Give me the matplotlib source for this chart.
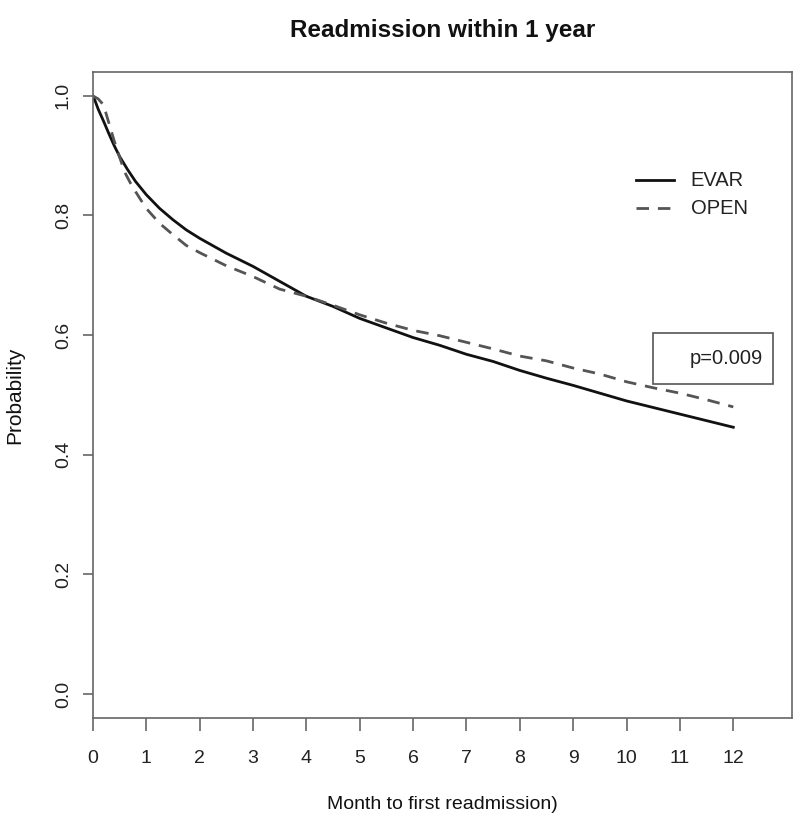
import matplotlib
matplotlib.use("Agg")
import matplotlib.pyplot as plt
from matplotlib.patches import Rectangle

plt.rcParams['font.family'] = ['Liberation Sans', 'DejaVu Sans']

# Data
evar_t = [0, 0.05, 0.1, 0.2, 0.3, 0.4, 0.5, 0.65, 0.8, 1.0, 1.25, 1.5, 1.75, 2.0,
          2.5, 3.0, 3.5, 4.0, 4.5, 5.0, 5.5, 6.0, 6.5, 7.0, 7.5, 8.0, 8.5, 9.0,
          9.5, 10.0, 10.5, 11.0, 11.5, 12.0]
evar_s = [1.0, 0.99, 0.978, 0.958, 0.937, 0.917, 0.899, 0.877, 0.857, 0.835, 0.812,
          0.793, 0.776, 0.762, 0.737, 0.715, 0.69, 0.665, 0.648, 0.628, 0.612,
          0.596, 0.583, 0.568, 0.556, 0.541, 0.528, 0.516, 0.503, 0.490, 0.479,
          0.468, 0.457, 0.446]
open_t = [0, 0.1, 0.2, 0.3, 0.4, 0.5, 0.6, 0.7, 0.8, 1.0, 1.25, 1.5, 1.75, 2.0,
          2.5, 3.0, 3.5, 4.0, 4.5, 5.0, 5.5, 6.0, 6.5, 7.0, 7.5, 8.0, 8.5, 9.0,
          9.5, 10.0, 10.5, 11.0, 11.5, 12.0]
open_s = [1.0, 0.995, 0.985, 0.955, 0.925, 0.898, 0.872, 0.855, 0.84, 0.812,
          0.787, 0.768, 0.75, 0.738, 0.716, 0.698, 0.677, 0.665, 0.65, 0.634,
          0.62, 0.608, 0.599, 0.588, 0.577, 0.565, 0.557, 0.545, 0.535, 0.522,
          0.512, 0.503, 0.492, 0.480]
x_ticks = list(range(0, 13))
y_ticks = [0.0, 0.2, 0.4, 0.6, 0.8, 1.0]
y_ticklabels = ["0.0", "0.2", "0.4", "0.6", "0.8", "1.0"]
series_names = ["EVAR", "OPEN"]
p_text = "p=0.009"

fig = plt.figure(figsize=(8, 8.23), dpi=100)
ax = fig.add_axes([0.116, 0.1276, 0.874, 0.785])

ax.plot(evar_t, evar_s, color='#111111', lw=2.0, solid_joinstyle='round')
ax.plot(open_t, open_s, color='#555555', lw=2.0, dashes=(4.5, 3.2))

ax.set_xlim(0, 13.1)
ax.set_ylim(-0.04, 1.04)
ax.set_xticks(x_ticks)
ax.set_xticklabels([str(v) for v in x_ticks])
ax.set_yticks(y_ticks)
ax.set_yticklabels(y_ticklabels, rotation=90, va='center')

for s in ax.spines.values():
    s.set_color('#666666')
    s.set_linewidth(1.2)
ax.tick_params(axis='x', length=9, width=1.2, color='#666666', pad=14,
               labelsize=14, labelcolor='#222222')
ax.tick_params(axis='y', length=7, width=1.2, color='#666666', pad=8,
               labelsize=14, labelcolor='#222222')

ax.set_title("Readmission within 1 year", fontsize=17.5, fontweight='bold',
             pad=25, color='#111111')
ax.set_xlabel("Month to first readmission)", fontsize=14, labelpad=21,
              color='#111111')
ax.set_ylabel("Probability", fontsize=15, labelpad=22, color='#111111')

# legend (no frame), drawn manually in data coords
ax.plot([10.18, 10.88], [0.859, 0.859], color='#111111', lw=2.0)
ax.plot([10.18, 10.88], [0.812, 0.812], color='#555555', lw=2.0, dashes=(4.5, 3.2))
ax.text(11.2, 0.859, series_names[0], fontsize=14.5, va='center', color='#222222')
ax.text(11.2, 0.812, series_names[1], fontsize=14.5, va='center', color='#222222')

# p-value box
ax.add_patch(Rectangle((10.5, 0.519), 2.25, 0.084, fill=False,
                       edgecolor='#555555', lw=1.2))
ax.text(12.55, 0.561, p_text, fontsize=14.5, ha='right', va='center',
        color='#222222')

fig.savefig("out.png", dpi=100)
